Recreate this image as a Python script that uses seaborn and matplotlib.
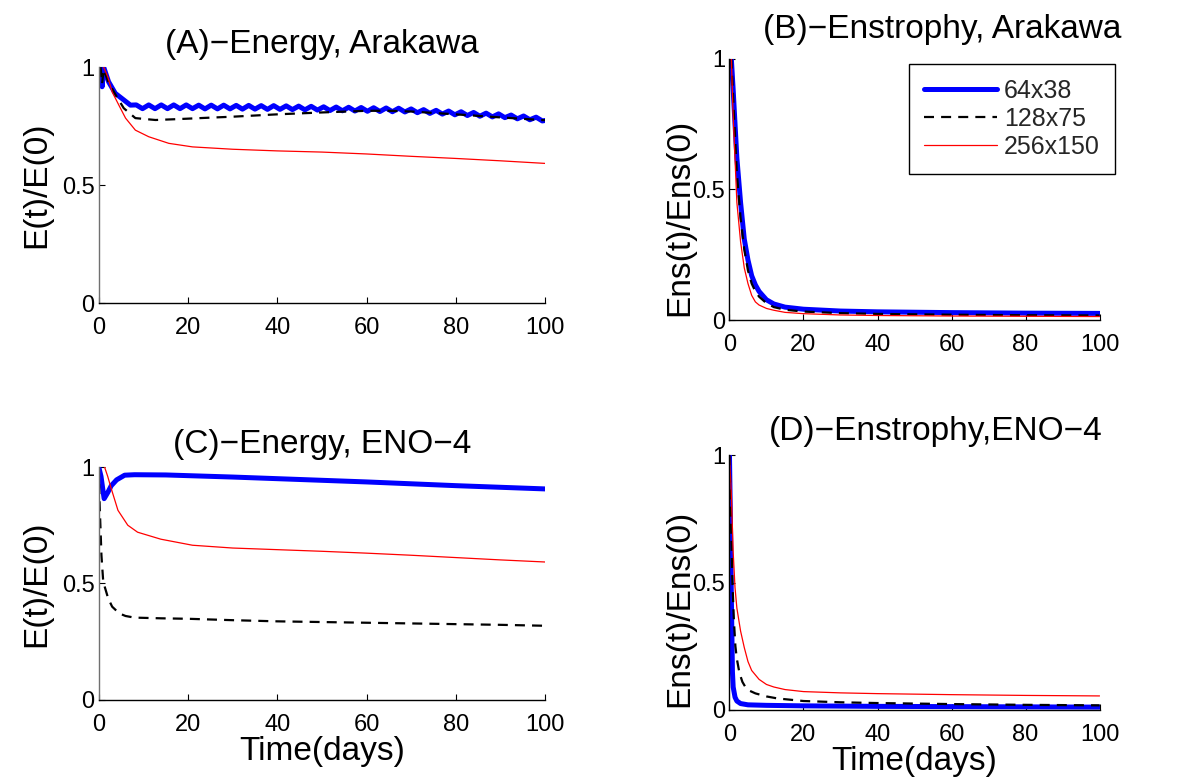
import numpy as np
import pandas as pd
import matplotlib
matplotlib.use("Agg")
import matplotlib.pyplot as plt
import seaborn as sns

# ---------------- data ----------------
grid_labels = ["64x38", "128x75", "256x150"]

# (A) Energy, Arakawa
a_blue_t = [0.4, 0.75, 1.1, 2.2, 3.7, 5.2, 7.1,
            8.4, 9.8, 11.2, 12.6, 14.0, 15.4, 16.8, 18.2, 19.6, 21.0, 22.4, 23.8, 25.2, 26.6,
            28.0, 29.4, 30.8, 32.2, 33.6, 35.0, 36.4, 37.8, 39.2, 40.6, 42.0, 43.4, 44.8, 46.2,
            47.6, 49.0, 50.4, 51.8, 53.2, 54.6, 56.0, 57.4, 58.8, 60.2, 61.6, 63.0, 64.4, 65.8,
            67.2, 68.6, 70.0, 71.4, 72.8, 74.2, 75.6, 77.0, 78.4, 79.8, 81.2, 82.6, 84.0, 85.4,
            86.8, 88.2, 89.6, 91.0, 92.4, 93.8, 95.2, 96.6, 98.0, 99.4, 100.0]
a_blue_v = [1.0, 0.917, 1.0, 0.938, 0.889, 0.867, 0.839,
            0.840, 0.824, 0.840, 0.824, 0.840, 0.824, 0.840, 0.824, 0.840, 0.824, 0.839, 0.823, 0.839, 0.823,
            0.839, 0.823, 0.838, 0.822, 0.838, 0.822, 0.837, 0.821, 0.837, 0.821, 0.836, 0.820, 0.835, 0.819,
            0.834, 0.818, 0.832, 0.816, 0.831, 0.815, 0.830, 0.814, 0.829, 0.813, 0.828, 0.812, 0.827, 0.811,
            0.826, 0.810, 0.823, 0.807, 0.820, 0.804, 0.817, 0.801, 0.814, 0.798, 0.811, 0.795, 0.808, 0.792,
            0.805, 0.789, 0.802, 0.786, 0.797, 0.781, 0.793, 0.777, 0.788, 0.772, 0.774]
a_black_t = [0.4, 0.75, 1.1, 2.2, 3.7, 5.6, 8.2, 12.7, 18, 25, 30, 40, 50, 60, 65, 70, 80, 90, 100]
a_black_v = [1.0, 0.93, 0.99, 0.935, 0.885, 0.826, 0.784, 0.776, 0.78, 0.786, 0.79, 0.80, 0.808,
             0.815, 0.815, 0.812, 0.80, 0.787, 0.775]
a_red_t = [1.1, 2, 3, 4.5, 6, 8.2, 11.2, 15.7, 21, 30, 40, 50, 60, 70, 80, 90, 100]
a_red_v = [1.0, 0.96, 0.895, 0.839, 0.784, 0.733, 0.705, 0.677, 0.662, 0.652, 0.645, 0.64,
           0.632, 0.622, 0.613, 0.603, 0.592]

# (B) Enstrophy, Arakawa
b_blue_t = [0.5, 1, 2, 3, 4, 5, 6, 7, 8, 10, 12, 15, 20, 30, 40, 60, 80, 100]
b_blue_v = [1.0, 0.88, 0.62, 0.45, 0.31, 0.23, 0.17, 0.135, 0.11, 0.078, 0.062, 0.05, 0.042,
            0.035, 0.032, 0.029, 0.027, 0.026]
b_black_t = [0.5, 1, 2, 3, 4, 5, 6, 7, 8, 10, 12, 15, 20, 30, 40, 60, 80, 100]
b_black_v = [1.0, 0.85, 0.56, 0.39, 0.27, 0.19, 0.14, 0.11, 0.09, 0.065, 0.05, 0.04, 0.033,
             0.027, 0.024, 0.021, 0.019, 0.018]
b_red_t = [0.5, 1, 2, 3, 4, 5, 6, 7, 8, 10, 12, 15, 20, 30, 40, 60, 80, 100]
b_red_v = [1.0, 0.78, 0.45, 0.30, 0.20, 0.14, 0.095, 0.07, 0.058, 0.045, 0.038, 0.03, 0.025,
           0.02, 0.018, 0.016, 0.015, 0.014]

# (C) Energy, ENO-4
c_blue_t = [0, 0.5, 1.2, 2, 2.8, 4, 5.8, 8, 15, 20, 30, 40, 50, 60, 70, 80, 90, 100]
c_blue_v = [1.0, 0.96, 0.864, 0.89, 0.92, 0.945, 0.965, 0.967, 0.966, 0.963, 0.957, 0.95,
            0.943, 0.936, 0.928, 0.92, 0.913, 0.906]
c_black_t = [0, 0.2, 0.6, 1, 2.1, 3, 4.6, 6, 8, 14, 20, 30, 40, 50, 60, 70, 80, 90, 100]
c_black_v = [1.0, 0.836, 0.62, 0.507, 0.436, 0.40, 0.371, 0.36, 0.353, 0.35, 0.348, 0.342,
             0.337, 0.334, 0.331, 0.328, 0.325, 0.322, 0.318]
c_red_t = [1.3, 2, 2.8, 4.3, 6.5, 8.7, 13.9, 21, 30, 40, 50, 60, 70, 80, 90, 100]
c_red_v = [1.0, 0.96, 0.907, 0.814, 0.75, 0.72, 0.69, 0.664, 0.652, 0.645, 0.638, 0.63,
           0.621, 0.611, 0.601, 0.592]

# (D) Enstrophy, ENO-4
d_blue_t = [0, 0.3, 0.5, 0.8, 1, 1.5, 2, 3, 5, 10, 20, 40, 60, 80, 100]
d_blue_v = [1.0, 0.7, 0.45, 0.15, 0.09, 0.05, 0.035, 0.025, 0.02, 0.018, 0.016, 0.014,
            0.013, 0.012, 0.011]
d_black_t = [0, 0.4, 0.8, 1.2, 1.6, 2, 2.7, 3.5, 4.3, 5.5, 7, 10, 13, 20, 30, 40, 60, 80, 100]
d_black_v = [1.0, 0.75, 0.5, 0.35, 0.25, 0.2, 0.145, 0.11, 0.09, 0.075, 0.065, 0.053, 0.045,
             0.035, 0.03, 0.027, 0.023, 0.02, 0.018]
d_red_t = [0, 0.5, 1, 1.5, 2, 3, 4, 5, 6, 8, 10, 12, 15, 20, 30, 40, 60, 80, 100]
d_red_v = [1.0, 0.85, 0.62, 0.48, 0.40, 0.31, 0.245, 0.19, 0.155, 0.12, 0.10, 0.09, 0.08,
           0.072, 0.067, 0.064, 0.06, 0.057, 0.055]

titles = ["(A)\u2212Energy, Arakawa", "(B)\u2212Enstrophy, Arakawa",
          "(C)\u2212Energy, ENO\u22124", "(D)\u2212Enstrophy,ENO\u22124"]
ylabels = ["E(t)/E(0)", "Ens(t)/Ens(0)", "E(t)/E(0)", "Ens(t)/Ens(0)"]
xticks = [0, 20, 40, 60, 80, 100]
yticks = [0, 0.5, 1]
ytick_labels = ["0", "0.5", "1"]

# ---------------- style ----------------
sns.set_theme(style="ticks")
plt.rcParams['font.family'] = ['Liberation Sans', 'DejaVu Sans']

fig = plt.figure(figsize=(11.9, 7.81), dpi=100)
positions = [
    [0.083, 0.612, 0.375, 0.302],
    [0.613, 0.590, 0.311, 0.335],
    [0.083, 0.104, 0.375, 0.298],
    [0.613, 0.091, 0.311, 0.326],
]
title_pads = [10, 15, 10, 11]
title_x = [0.5, 0.576, 0.5, 0.557]
ylabel_coords = [None, (-0.092, 0.393), None, (-0.092, 0.40)]

panels = [
    (a_blue_t, a_blue_v, a_black_t, a_black_v, a_red_t, a_red_v),
    (b_blue_t, b_blue_v, b_black_t, b_black_v, b_red_t, b_red_v),
    (c_blue_t, c_blue_v, c_black_t, c_black_v, c_red_t, c_red_v),
    (d_blue_t, d_blue_v, d_black_t, d_black_v, d_red_t, d_red_v),
]

styles = [
    dict(color="#0000FF", lw=3.6, ls="-"),
    dict(color="black", lw=1.6, ls=(0, (4.5, 3.2))),
    dict(color="#FF0000", lw=0.9, ls="-"),
]

for i, (pos, data) in enumerate(zip(positions, panels)):
    ax = fig.add_axes(pos)
    for k in range(3):
        t = data[2 * k]
        v = data[2 * k + 1]
        df = pd.DataFrame({"t": t, "v": v})
        st = styles[k]
        sns.lineplot(data=df, x="t", y="v", ax=ax, sort=False, estimator=None,
                     color=st["color"], linewidth=st["lw"], linestyle=st["ls"],
                     label=grid_labels[k] if i == 1 else None, legend=False)
    ax.set_xlim(0, 100)
    ax.set_ylim(0, 1)
    ax.set_xticks(xticks)
    ax.set_xticklabels([str(x) for x in xticks])
    ax.set_yticks(yticks)
    ax.set_yticklabels(ytick_labels)
    ax.tick_params(direction="in", length=4, width=0.8, labelsize=17, colors="black")
    ax.tick_params(axis="x", pad=10)
    ax.tick_params(axis="y", pad=3)
    for s in ["top", "right"]:
        ax.spines[s].set_visible(False)
    ax.spines["bottom"].set_color("black")
    ax.spines["bottom"].set_linewidth(1.0)
    ax.spines["left"].set_color("#707070" if i in (0, 2) else "black")
    ax.spines["left"].set_linewidth(1.0)
    ttl = ax.set_title(titles[i], fontsize=24, pad=title_pads[i], color="black")
    ttl.set_x(title_x[i])
    ax.set_ylabel(ylabels[i], fontsize=24, color="black", labelpad=7)
    if ylabel_coords[i] is not None:
        ax.yaxis.set_label_coords(*ylabel_coords[i])
    if i >= 2:
        ax.set_xlabel("Time(days)", fontsize=24, color="black", labelpad=0)
    else:
        ax.set_xlabel("")
    ax.set_facecolor("white")
    if i == 1:
        leg = ax.legend(loc="upper right", bbox_to_anchor=(1115 / 1190, 1 - 64 / 781),
                        bbox_transform=fig.transFigure, fontsize=18, frameon=True,
                        fancybox=False, edgecolor="black", framealpha=1,
                        handlelength=2.9, handletextpad=0.3, labelspacing=0.15,
                        borderpad=0.6, borderaxespad=0)
        leg.get_frame().set_linewidth(1.0)

fig.savefig("out.png", dpi=100, facecolor="white")
